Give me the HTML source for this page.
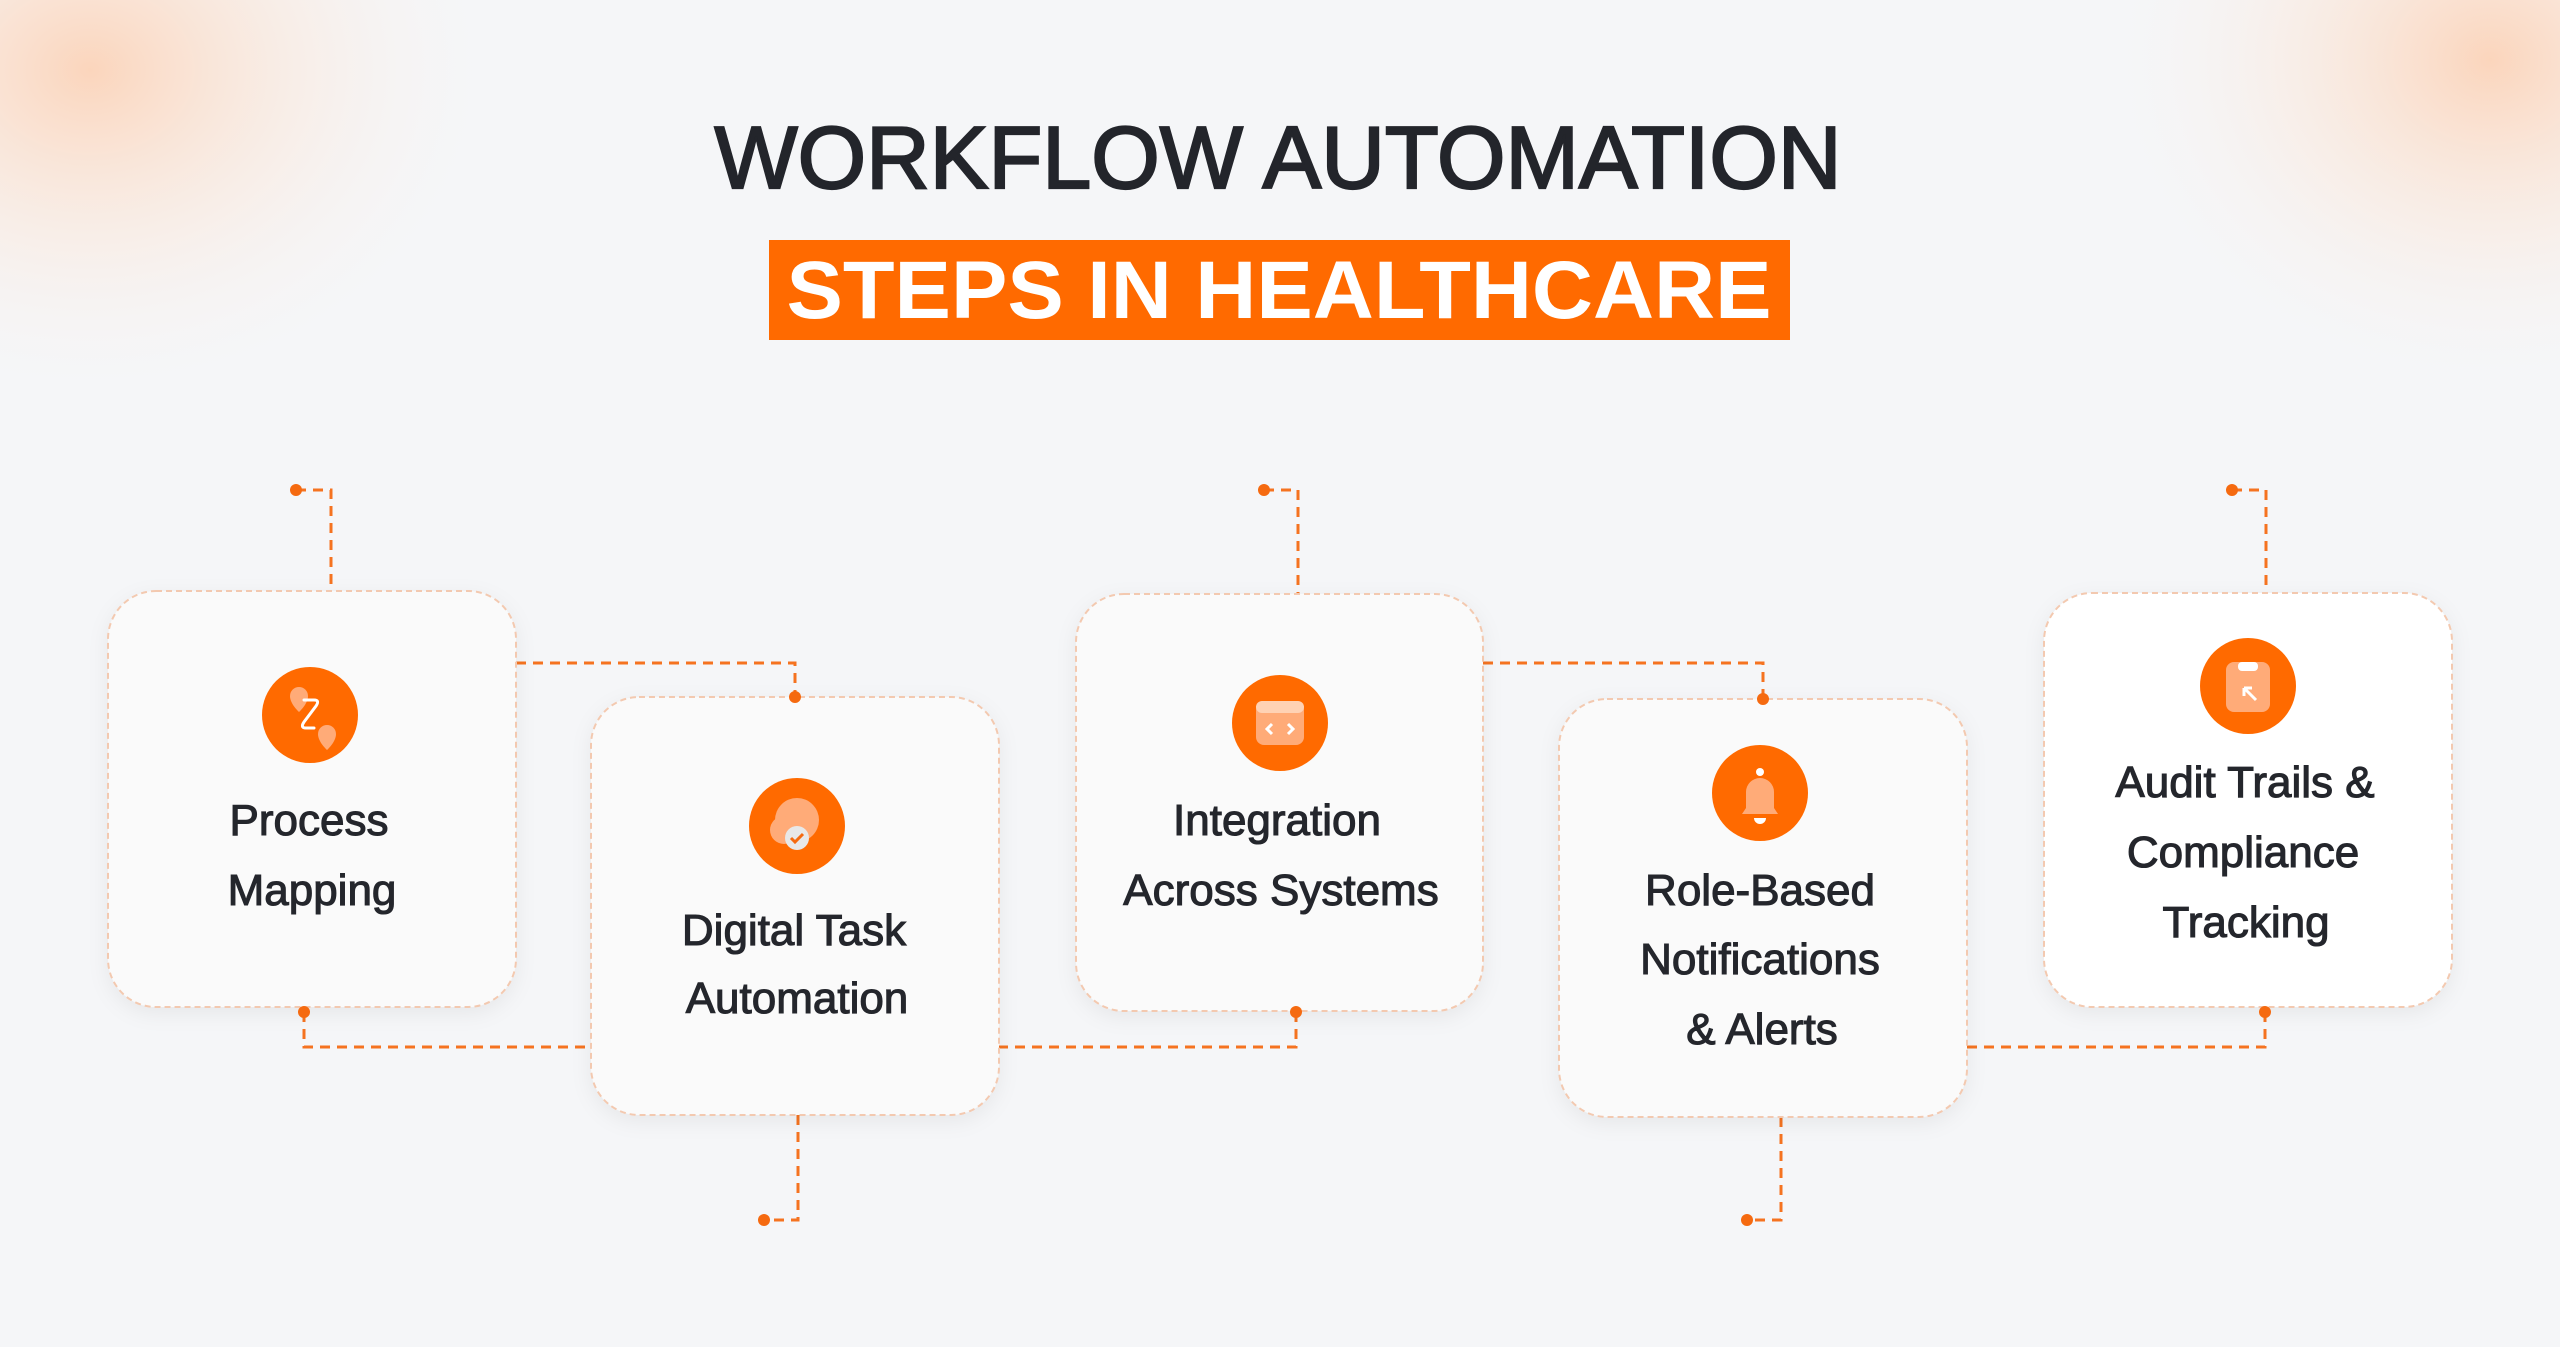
<!DOCTYPE html>
<html><head><meta charset="utf-8"><style>
html,body{margin:0;padding:0;background:#f5f6f8;}
svg{display:block;font-family:"Liberation Sans",sans-serif;}
</style></head><body>
<svg width="2560" height="1347" viewBox="0 0 2560 1347" xmlns="http://www.w3.org/2000/svg">
<defs>
<radialGradient id="g1" cx="0.5" cy="0.5" r="0.5">
<stop offset="0" stop-color="#ffbf94" stop-opacity="0.6"/>
<stop offset="0.5" stop-color="#ffdcc4" stop-opacity="0.3"/>
<stop offset="1" stop-color="#f5f6f8" stop-opacity="0"/>
</radialGradient>
<filter id="sh" x="-10%" y="-10%" width="120%" height="120%"><feDropShadow dx="0" dy="6" stdDeviation="10" flood-color="#000" flood-opacity="0.06"/></filter>
</defs>
<rect width="2560" height="1347" fill="#f5f6f8"/>
<ellipse cx="90" cy="70" rx="420" ry="340" fill="url(#g1)"/>
<ellipse cx="2490" cy="60" rx="400" ry="340" fill="url(#g1)"/>

<text x="1278" y="188" text-anchor="middle" font-size="88" fill="#23252b" stroke="#23252b" stroke-width="2.2" textLength="1127" lengthAdjust="spacingAndGlyphs">WORKFLOW AUTOMATION</text>
<rect x="769" y="240" width="1021" height="100" fill="#ff6a00"/>
<text x="1279" y="318" text-anchor="middle" font-size="82" font-weight="bold" fill="#fff" textLength="985" lengthAdjust="spacingAndGlyphs">STEPS IN HEALTHCARE</text>

<g stroke="#f57320" stroke-width="3" stroke-dasharray="10 7" fill="none">
<path d="M296 490 H331 V591"/>
<path d="M516 663 H795 V697"/>
<path d="M304 1012 V1047 H591"/>
<path d="M798 1115 V1220 H764"/>
<path d="M1264 490 H1298 V594"/>
<path d="M1483 663 H1763 V699"/>
<path d="M1296 1012 V1047 H999"/>
<path d="M1781 1117 V1220 H1747"/>
<path d="M1967 1047 H2265 V1012"/>
<path d="M2232 490 H2266 V593"/>
</g>

<g stroke="#f3c9b0" stroke-width="2" stroke-dasharray="6 4" filter="url(#sh)">
<rect x="108" y="591" width="408" height="416" rx="48" fill="#fafafa"/>
<rect x="591" y="697" width="408" height="418" rx="48" fill="#fafafa"/>
<rect x="1076" y="594" width="407" height="417" rx="48" fill="#fafafa"/>
<rect x="1559" y="699" width="408" height="418" rx="48" fill="#fafafa"/>
<rect x="2044" y="593" width="408" height="414" rx="48" fill="#ffffff"/>
</g>

<g fill="#f56a10">
<circle cx="296" cy="490" r="6"/><circle cx="795" cy="697" r="6"/><circle cx="304" cy="1012" r="6"/>
<circle cx="764" cy="1220" r="6"/><circle cx="1264" cy="490" r="6"/><circle cx="1763" cy="699" r="6"/>
<circle cx="1296" cy="1012" r="6"/><circle cx="1747" cy="1220" r="6"/><circle cx="2265" cy="1012" r="6"/>
<circle cx="2232" cy="490" r="6"/>
</g>

<g fill="#ff6a00">
<circle cx="310" cy="715" r="48"/><circle cx="797" cy="826" r="48"/><circle cx="1280" cy="723" r="48"/>
<circle cx="1760" cy="793" r="48"/><circle cx="2248" cy="686" r="48"/>
</g>
<g>
<path d="M290 696 a9 9 0 0 1 18 0 c0 8 -9 16 -9 16 c0 0 -9 -8 -9 -16z" fill="#ffab78"/>
<path d="M318 734 a9 9 0 0 1 18 0 c0 8 -9 16 -9 16 c0 0 -9 -8 -9 -16z" fill="#ffab78"/>
<path d="M304 700 h10 q6 0 2 6 l-12 16 q-4 6 2 6 h8" stroke="#fff" stroke-width="3" fill="none" stroke-linecap="round"/>
<circle cx="797" cy="820" r="22" fill="#ffab78"/><circle cx="784" cy="830" r="14" fill="#ffab78"/>
<circle cx="797" cy="838" r="12" fill="#e8e8e8"/>
<path d="M791 838 l4 4 l8 -8" stroke="#f56a10" stroke-width="3" fill="none"/>
<rect x="1256" y="701" width="48" height="44" rx="8" fill="#ffab78"/>
<rect x="1256" y="701" width="48" height="12" rx="6" fill="#ffd2b4"/>
<path d="M1272 724 l-5 5 l5 5 M1288 724 l5 5 l-5 5" stroke="#fff" stroke-width="3" fill="none"/>
<path d="M1746 808 v-16 a14 14 0 0 1 28 0 v16 l4 6 h-36z" fill="#ffab78"/>
<circle cx="1760" cy="772" r="4" fill="#fff"/>
<path d="M1754 818 a6 6 0 0 0 12 0z" fill="#fff"/>
<rect x="2226" y="662" width="44" height="50" rx="8" fill="#ffab78"/>
<rect x="2238" y="662" width="20" height="9" rx="4" fill="#fff"/>
<path d="M2256 700 l-12 -12 M2244 688 v8 M2244 688 h8" stroke="#fff" stroke-width="3" fill="none"/>
</g>

<g font-size="44" fill="#24262c" stroke="#24262c" stroke-width="1.1" text-anchor="middle">
<text x="309" y="835">Process</text>
<text x="312" y="905">Mapping</text>
<text x="794" y="945">Digital Task</text>
<text x="797" y="1013">Automation</text>
<text x="1277" y="835">Integration</text>
<text x="1281" y="905">Across Systems</text>
<text x="1760" y="905">Role-Based</text>
<text x="1760" y="974">Notifications</text>
<text x="1762" y="1044">&amp; Alerts</text>
<text x="2245" y="797">Audit Trails &amp;</text>
<text x="2243" y="867">Compliance</text>
<text x="2246" y="937">Tracking</text>
</g>
</svg>
</body></html>
